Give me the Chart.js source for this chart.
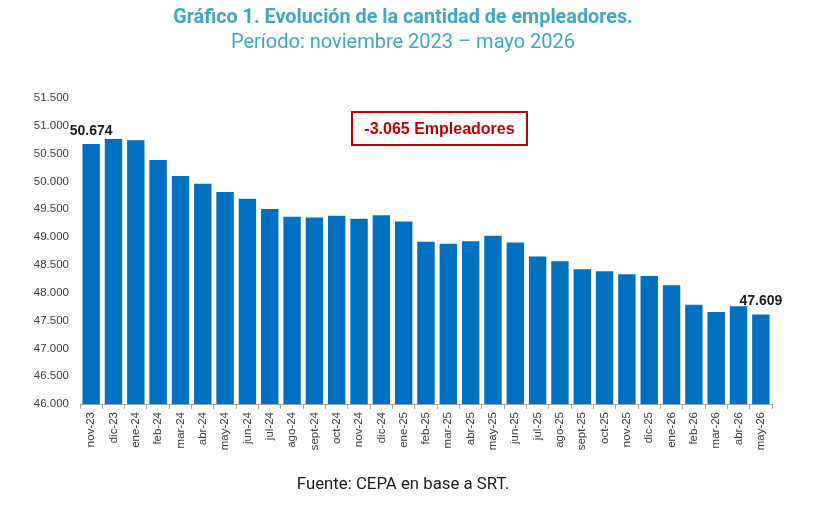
<!DOCTYPE html>
<html lang="es">
<head>
<meta charset="UTF-8">
<title>Evolución de la cantidad de empleadores</title>
<script src="https://cdn.jsdelivr.net/npm/chart.js"></script>
<style>
    body {
        margin: 0;
        background: #ffffff;
    }
    .wrap {
        position: relative;
        width: 830px;
        height: 514px;
        overflow: hidden;
    }
    #chart {
        position: absolute;
        left: 0;
        top: 0;
    }
    .titulo, .subtitulo, .fuente {
        position: absolute;
        left: 0;
        width: 806px;
        text-align: center;
        font-family: Roboto, sans-serif;
        line-height: 1;
        white-space: nowrap;
    }
    .titulo {
        top: 7px;
        font-size: 19.8px;
        font-weight: bold;
        color: #3fa7c3;
    }
    .subtitulo {
        top: 31px;
        font-size: 20px;
        color: #3fa7c3;
    }
    .fuente {
        top: 475px;
        font-size: 16.8px;
        color: #1a1a1a;
    }
    .caja {
        position: absolute;
        left: 351px;
        top: 111px;
        width: 173px;
        height: 31px;
        border: 2px solid #c00000;
        color: #c00000;
        font-family: "Liberation Sans", Arial, sans-serif;
        font-weight: bold;
        font-size: 16px;
        line-height: 31px;
        text-align: center;
    }
</style>
</head>
<body>
<div class="wrap">
    <canvas id="chart" width="830" height="514"></canvas>
    <div class="titulo">Gráfico 1. Evolución de la cantidad de empleadores.</div>
    <div class="subtitulo">Período: noviembre 2023 – mayo 2026</div>
    <div class="caja" id="caja"></div>
    <div class="fuente">Fuente: CEPA en base a SRT.</div>
</div>

<script>
    // Meses (eje x)
    const meses = ['nov-23', 'dic-23', 'ene-24', 'feb-24', 'mar-24', 'abr-24', 'may-24', 'jun-24',
        'jul-24', 'ago-24', 'sept-24', 'oct-24', 'nov-24', 'dic-24', 'ene-25', 'feb-25', 'mar-25',
        'abr-25', 'may-25', 'jun-25', 'jul-25', 'ago-25', 'sept-25', 'oct-25', 'nov-25', 'dic-25',
        'ene-26', 'feb-26', 'mar-26', 'abr-26', 'may-26'];

    // Cantidad de empleadores (extremos exactos)
    const empleadores = [50674, 50765, 50740, 50385, 50097, 49960, 49809, 49690,
        49503, 49365, 49353, 49384, 49329, 49394, 49281, 48915, 48879,
        48926, 49023, 48903, 48650, 48566, 48421, 48385, 48331, 48302,
        48133, 47785, 47654, 47755, 47609];

    // Eje y
    const yMin = 46000;
    const yMax = 51500;
    const yPaso = 500;

    // Barras con etiqueta de valor
    const conEtiqueta = [0, empleadores.length - 1];

    function fmt(n) {
        return String(n).replace(/\B(?=(\d{3})+(?!\d))/g, '.');
    }

    const diferencia = empleadores[empleadores.length - 1] - empleadores[0];
    document.getElementById('caja').textContent =
        (diferencia < 0 ? '-' : '+') + fmt(Math.abs(diferencia)) + ' Empleadores';

    // Etiquetas de valor sobre la primera y la última barra
    const etiquetasPlugin = {
        id: 'etiquetas',
        afterDatasetsDraw(chart) {
            const ctx = chart.ctx;
            const meta = chart.getDatasetMeta(0);
            ctx.save();
            ctx.font = 'bold 14px "Liberation Sans", Arial, sans-serif';
            ctx.fillStyle = '#1a1a1a';
            ctx.textAlign = 'center';
            ctx.textBaseline = 'middle';
            conEtiqueta.forEach(i => {
                const bar = meta.data[i];
                ctx.fillText(fmt(empleadores[i]), bar.x, bar.y - 13);
            });
            ctx.restore();
        }
    };

    const ctx = document.getElementById('chart').getContext('2d');
    new Chart(ctx, {
        type: 'bar',
        data: {
            labels: meses,
            datasets: [{
                data: empleadores,
                backgroundColor: '#0070c0',
                borderWidth: 0,
                barPercentage: 0.78,
                categoryPercentage: 1.0
            }]
        },
        options: {
            responsive: false,
            animation: false,
            layout: {
                padding: { top: 98, right: 58, left: 0, bottom: 0 }
            },
            plugins: {
                legend: { display: false },
                tooltip: { enabled: false }
            },
            scales: {
                x: {
                    grid: {
                        display: true,
                        drawOnChartArea: false,
                        drawTicks: true,
                        tickLength: 5,
                        color: '#a6a6a6'
                    },
                    border: { display: true, color: '#a6a6a6' },
                    ticks: {
                        autoSkip: false,
                        maxRotation: 90,
                        minRotation: 90,
                        padding: 3,
                        color: '#404040',
                        font: { family: '"Liberation Sans", Arial, sans-serif', size: 11.5 }
                    },
                    afterFit(scale) { scale.height = 110; }
                },
                y: {
                    min: yMin,
                    max: yMax,
                    grid: { display: false, drawTicks: false },
                    border: { display: false },
                    ticks: {
                        stepSize: yPaso,
                        padding: 11,
                        color: '#404040',
                        font: { family: '"Liberation Sans", Arial, sans-serif', size: 11.5 },
                        callback: v => fmt(v)
                    },
                    afterFit(scale) { scale.width = 80; }
                }
            }
        },
        plugins: [etiquetasPlugin]
    });
</script>
</body>
</html>
